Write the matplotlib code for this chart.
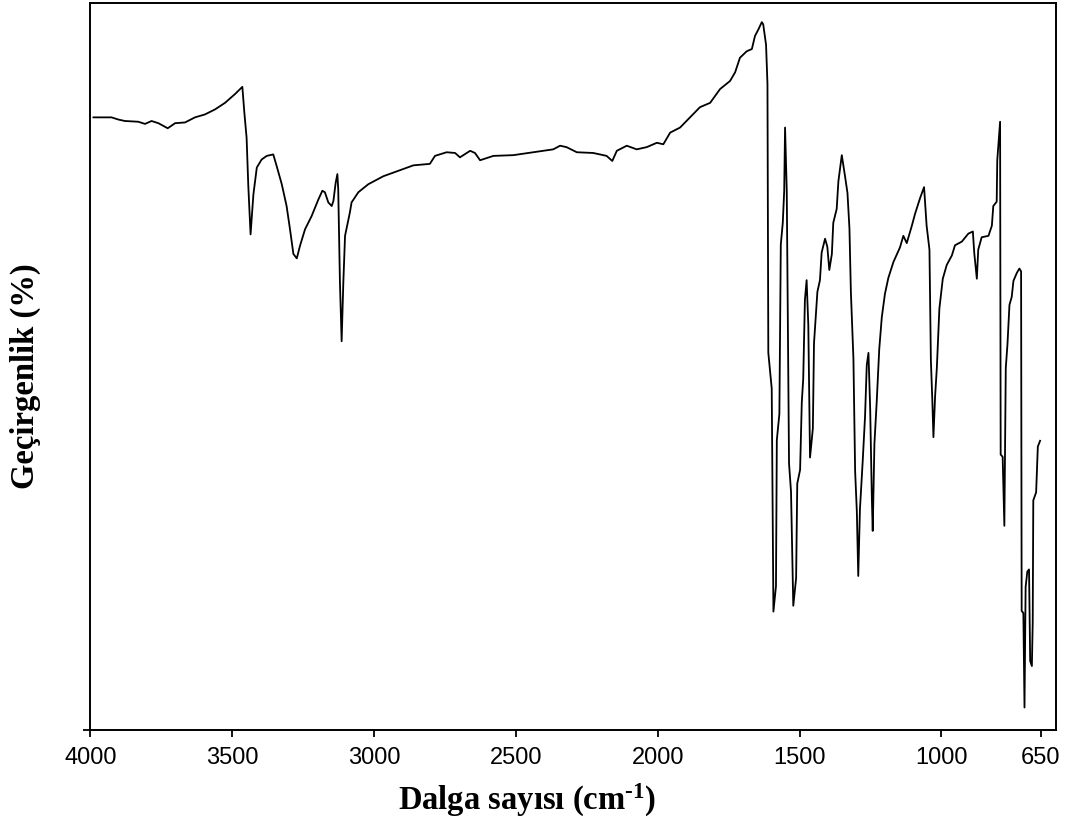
import matplotlib
matplotlib.use("Agg")
import matplotlib.pyplot as plt

# IR spectrum (wavenumber in cm-1, relative transmittance)
wavenumber = [3989, 3925, 3901, 3878, 3831, 3807, 3784, 3760, 3727, 3701,
              3666, 3631, 3596, 3560, 3525, 3490, 3464, 3457, 3449, 3443,
              3435, 3425, 3413, 3396, 3378, 3355, 3343, 3325, 3308, 3296,
              3284, 3272, 3261, 3243, 3220, 3196, 3182, 3173, 3161, 3149,
              3143, 3135, 3129, 3126, 3120, 3114, 3108, 3102, 3085, 3079,
              3055, 3020, 2967, 2932, 2861, 2803, 2785, 2744, 2714, 2697,
              2661, 2644, 2626, 2579, 2509, 2438, 2368, 2344, 2321, 2285,
              2227, 2180, 2160, 2144, 2109, 2074, 2039, 2003, 1980, 1956,
              1921, 1886, 1851, 1815, 1780, 1745, 1727, 1710, 1686, 1668,
              1657, 1645, 1633, 1628, 1618, 1613, 1610, 1598, 1592, 1583,
              1580, 1571, 1566, 1559, 1554, 1551, 1545, 1537, 1530, 1522,
              1512, 1508, 1498, 1492, 1487, 1481, 1475, 1469, 1463, 1453,
              1449, 1437, 1428, 1422, 1410, 1402, 1395, 1386, 1381, 1369,
              1363, 1351, 1340, 1331, 1324, 1319, 1310, 1304, 1298, 1293,
              1287, 1277, 1269, 1263, 1257, 1251, 1245, 1242, 1236, 1228,
              1219, 1210, 1199, 1187, 1169, 1146, 1134, 1122, 1104, 1093,
              1075, 1061, 1052, 1042, 1037, 1032, 1028, 1022, 1016, 1007,
              995, 981, 963, 952, 928, 905, 889, 884, 875, 870,
              858, 834, 822, 817, 805, 803, 793, 791, 784, 778,
              773, 767, 760, 752, 746, 734, 725, 719, 717, 711,
              707, 703, 697, 691, 687, 681, 678, 676, 666, 660,
              652]
transmittance = [84.3, 84.3, 84.0, 83.8, 83.7, 83.4, 83.8, 83.5, 82.8, 83.5,
                 83.6, 84.3, 84.7, 85.4, 86.3, 87.5, 88.5, 85.0, 81.5, 74.9,
                 68.2, 73.7, 77.4, 78.5, 79.0, 79.2, 77.6, 75.1, 72.1, 68.9,
                 65.5, 64.9, 66.6, 68.9, 70.7, 73.0, 74.2, 74.0, 72.6, 72.1,
                 72.8, 75.3, 76.5, 74.4, 61.6, 53.5, 61.6, 68.0, 71.2, 72.6,
                 74.0, 75.1, 76.2, 76.7, 77.7, 77.9, 79.0, 79.5, 79.4, 78.8,
                 79.7, 79.4, 78.4, 79.0, 79.1, 79.5, 79.9, 80.4, 80.2, 79.5,
                 79.4, 79.0, 78.3, 79.7, 80.4, 79.9, 80.2, 80.8, 80.6, 82.2,
                 82.9, 84.3, 85.7, 86.3, 88.2, 89.3, 90.5, 92.5, 93.4, 93.7,
                 95.5, 96.4, 97.4, 97.1, 94.3, 88.9, 51.9, 47.0, 16.3, 19.8,
                 39.9, 43.5, 66.8, 69.8, 74.2, 82.9, 74.2, 36.7, 32.8, 17.1,
                 20.9, 33.9, 35.8, 45.1, 48.3, 59.2, 61.9, 55.7, 37.5, 41.5,
                 53.2, 60.3, 61.9, 65.7, 67.6, 66.5, 63.3, 65.5, 69.8, 71.7,
                 75.5, 79.1, 76.3, 73.9, 69.0, 60.3, 51.1, 35.6, 30.1, 21.2,
                 30.4, 37.2, 43.2, 50.2, 51.9, 44.3, 31.8, 27.4, 39.4, 45.1,
                 52.4, 56.8, 60.0, 62.2, 64.4, 66.4, 68.0, 67.0, 69.4, 71.0,
                 73.2, 74.7, 69.4, 66.1, 50.9, 45.5, 40.3, 46.0, 49.8, 58.0,
                 62.1, 64.0, 65.3, 66.7, 67.2, 68.3, 68.6, 65.6, 62.1, 66.1,
                 67.8, 68.0, 69.4, 72.1, 72.7, 78.4, 83.7, 37.9, 37.6, 28.1,
                 49.8, 53.1, 58.5, 59.6, 61.8, 62.9, 63.5, 63.1, 16.4, 16.1,
                 3.1, 19.7, 21.8, 22.1, 9.5, 8.8, 14.8, 31.6, 32.7, 39.0,
                 39.8]

xticks = [4000, 3500, 3000, 2500, 2000, 1500, 1000, 650]
xtick_labels = ["4000", "3500", "3000", "2500", "2000", "1500", "1000", "650"]

plt.rcParams['mathtext.fontset'] = 'custom'
plt.rcParams['mathtext.rm'] = 'Liberation Serif:bold'
plt.rcParams['mathtext.it'] = 'Liberation Serif:bold'
plt.rcParams['mathtext.bf'] = 'Liberation Serif:bold'

fig = plt.figure(figsize=(10.76, 8.20), dpi=100)
ax = fig.add_axes([0.0839, 0.1085, 0.8975, 0.8863])

ax.plot(wavenumber, transmittance, color='black', linewidth=1.3)

ax.set_xlim(4000, 596)
ax.set_ylim(0, 100)

ax.set_xticks(xticks)
ax.set_xticklabels(xtick_labels, fontfamily='Liberation Sans', fontsize=17)
ax.set_yticks([0])
ax.set_yticklabels([""])
ax.tick_params(axis='both', direction='out', length=4.7, width=1.3, color='black', pad=7)

for s in ax.spines.values():
    s.set_linewidth(1.4)
    s.set_color('black')

ax.set_xlabel(r'Dalga sayısı (cm$^{\text{-1}}$)', fontfamily='Liberation Serif',
              fontweight='bold', fontsize=23.5)
ax.xaxis.label.set_va('baseline')
ax.xaxis.set_label_coords(0.4527, -0.1087)

ax.set_ylabel('Geçirgenlik (%)', fontfamily='Liberation Serif', fontweight='bold', fontsize=23.5)
ax.yaxis.label.set_va('center')
ax.yaxis.label.set_ha('center')
ax.yaxis.set_label_coords(-0.0676, 0.488)

fig.savefig('out.png', dpi=100, facecolor='white')
